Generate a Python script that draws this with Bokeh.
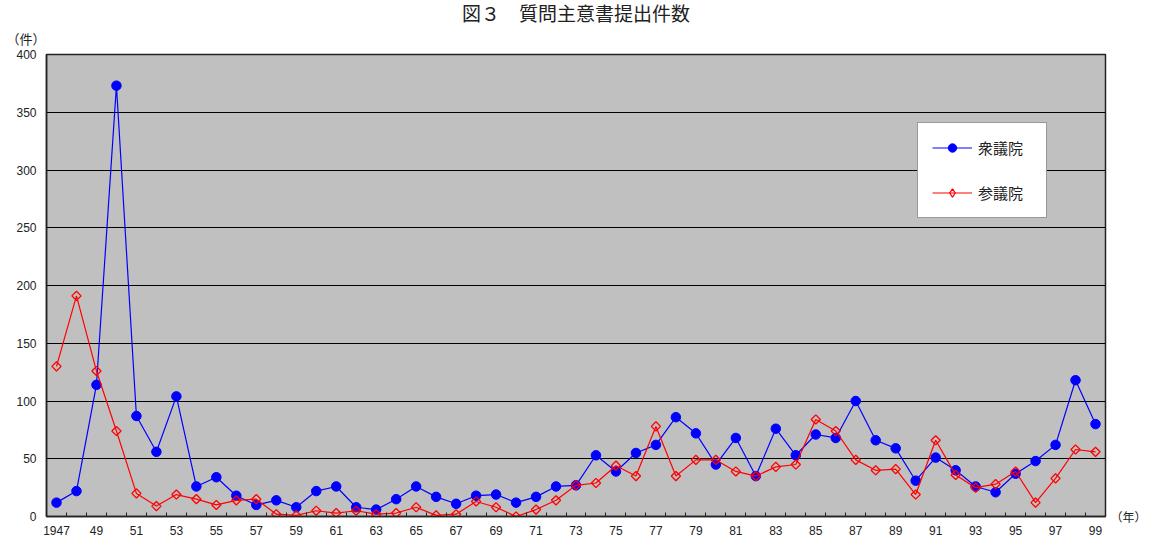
import math
from bokeh.plotting import figure
from bokeh.models import (FixedTicker, Range1d, Legend, LegendItem, Title, LinearAxis)
from bokeh.embed import file_html
from bokeh.resources import INLINE

years = list(range(1947, 2000))
shugiin = [12, 22, 114, 373, 87, 56, 104, 26, 34, 18, 10, 14, 8, 22, 26, 8, 6, 15, 26, 17,
           11, 18, 19, 12, 17, 26, 27, 53, 39, 55, 62, 86, 72, 45, 68, 35, 76, 53, 71, 68,
           100, 66, 59, 31, 51, 40, 26, 21, 37, 48, 62, 118, 80]
sangiin = [130, 191, 126, 74, 20, 9, 19, 15, 10, 14, 15, 2, 1, 5, 3, 5, 2, 3, 8, 1,
           2, 13, 8, 0, 6, 14, 27, 29, 44, 35, 78, 35, 49, 49, 39, 35, 43, 45, 84, 74,
           49, 40, 41, 19, 66, 36, 25, 28, 39, 12, 33, 58, 56]
y_ticks = [0, 50, 100, 150, 200, 250, 300, 350, 400]
x_label_years = list(range(1947, 2000, 2))
x_labels = {y: (str(y) if y == 1947 else f"{y % 100:02d}") for y in x_label_years}
title_text = "図３　質問主意書提出件数"
y_unit = "（件）"
x_unit = "（年）"
names = ["衆議院", "参議院"]

JP = "Noto Sans CJK JP"
LAT = "Liberation Sans"
TXT = "#222222"

p = figure(width=1149, height=537, output_backend="svg", toolbar_location=None,
           x_range=Range1d(1946.5, 1999.5), y_range=Range1d(0, 400),
           min_border_left=46, min_border_right=44, min_border_top=54, min_border_bottom=20)
p.background_fill_color = "#C0C0C0"
p.border_fill_color = "white"
p.outline_line_color = TXT
p.outline_line_width = 1.5

p.title.text = title_text
p.title.align = "center"
p.title.vertical_align = "top"
p.title.text_font = JP
p.title.text_font_size = "19px"
p.title.text_font_style = "normal"
p.title.text_color = TXT
p.title.standoff = -8

p.add_layout(Title(text=y_unit, align="left", offset=-40, vertical_align="top",
                   text_font=JP, text_font_size="13px", text_font_style="normal",
                   text_color=TXT, standoff=10), "above")

p.xgrid.visible = False
p.ygrid.grid_line_color = "black"
p.ygrid.grid_line_width = 1
p.yaxis.ticker = FixedTicker(ticks=y_ticks)
p.yaxis.minor_tick_line_color = None
p.yaxis.major_tick_out = 0
p.yaxis.major_tick_in = 0
p.yaxis.major_label_text_font = LAT
p.yaxis.major_label_text_font_size = "12px"
p.yaxis.major_label_text_color = TXT
p.yaxis.axis_line_color = TXT
p.yaxis.axis_line_width = 1.5
p.yaxis.major_label_standoff = 10

p.xaxis.ticker = FixedTicker(ticks=x_label_years,
                             minor_ticks=[y + 0.5 for y in range(1946, 2000)])
p.xaxis.major_label_overrides = x_labels
p.xaxis.major_tick_out = 0
p.xaxis.major_tick_in = 0
p.xaxis.minor_tick_in = 4
p.xaxis.minor_tick_out = 0
p.xaxis.minor_tick_line_color = TXT
p.xaxis.major_label_text_font = LAT
p.xaxis.major_label_text_font_size = "12px"
p.xaxis.major_label_text_color = TXT
p.xaxis.axis_line_color = TXT
p.xaxis.axis_line_width = 1.5
p.xaxis.major_label_standoff = 9

# unit label for the x axis, shown as the only label of a bare right-hand axis at y=0
unit_axis = LinearAxis(ticker=FixedTicker(ticks=[0], minor_ticks=[]),
                       major_label_overrides={0: x_unit},
                       axis_line_color=None, major_tick_line_color=None,
                       minor_tick_line_color=None, major_tick_in=0, major_tick_out=0,
                       minor_tick_in=0, minor_tick_out=0, major_label_standoff=5,
                       major_label_text_font=JP, major_label_text_font_size="12px",
                       major_label_text_color=TXT)
p.add_layout(unit_axis, "right")

l1 = p.line(years, shugiin, line_color="blue", line_width=1.2)
s1 = p.scatter(years, shugiin, marker="circle", size=9.5, fill_color="blue", line_color="blue")
l2 = p.line(years, sangiin, line_color="red", line_width=1.2)
s2 = p.scatter(years, sangiin, marker="square", size=6.5, angle=math.pi / 4,
               fill_color=None, line_color="red", line_width=1.3)
# zero-size diamonds: invisible in the plot, but give the legend a diamond key
s2_key = p.scatter(years, sangiin, marker="diamond", size=0, fill_color=None,
                   line_color="red", line_width=1.3)

legend = Legend(items=[LegendItem(label=names[0], renderers=[l1, s1]),
                       LegendItem(label=names[1], renderers=[l2, s2_key])],
                location=(871, 298), padding=14, spacing=24, glyph_width=40,
                glyph_height=21, label_height=20, label_width=54, label_standoff=6,
                label_text_font=JP, label_text_font_size="15px",
                label_text_color=TXT,
                border_line_color="#333333", border_line_width=1.2,
                background_fill_color="white", background_fill_alpha=1)
p.add_layout(legend, "center")

open("out.html", "w").write(file_html(p, INLINE))
